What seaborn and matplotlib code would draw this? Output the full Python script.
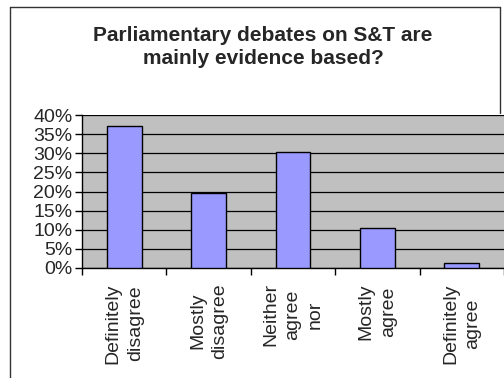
import numpy as np
import pandas as pd
import matplotlib
matplotlib.use("Agg")
import matplotlib.pyplot as plt
from matplotlib.lines import Line2D
from matplotlib.ticker import PercentFormatter, MultipleLocator, FixedLocator
import seaborn as sns

categories = ["Definitely\ndisagree", "Mostly\ndisagree", "Neither\nagree\nnor",
              "Mostly\nagree", "Definitely\nagree"]
shares = [0.371, 0.195, 0.304, 0.105, 0.014]

df = pd.DataFrame({"answer": categories, "share": shares})

sns.set_style("white")
plt.rcParams['font.family'] = ['Liberation Sans', 'DejaVu Sans']

fig = plt.figure(figsize=(5.04, 3.78), dpi=100)
ax = fig.add_axes([82 / 504, 1 - 268 / 378, 422 / 504, 153 / 378])
ax.set_facecolor('#C0C0C0')

sns.barplot(data=df, x="answer", y="share", color='#9999FF', saturation=1,
            width=0.41, edgecolor='black', linewidth=1, ax=ax, zorder=3)

ax.set_xlim(-0.5, len(categories) - 0.5)
ax.set_ylim(0, 0.40)
ax.yaxis.set_major_locator(MultipleLocator(0.05))
ax.yaxis.set_major_formatter(PercentFormatter(1.0, decimals=0))
ax.grid(axis='y', color='black', linewidth=0.9, zorder=1)
ax.set_axisbelow(True)

ax.set_xlabel('')
ax.set_ylabel('')

for s in ['top', 'right']:
    ax.spines[s].set_visible(False)
for s in ['left', 'bottom']:
    ax.spines[s].set_color('black')
    ax.spines[s].set_linewidth(1)

ax.tick_params(axis='y', which='major', direction='out', length=5, width=1,
               color='black', labelsize=14, pad=2, left=True)
ax.tick_params(axis='x', which='major', length=0, labelsize=14, pad=11)
ax.xaxis.set_minor_locator(FixedLocator(np.arange(-0.5, len(categories), 1.0)))
ax.tick_params(axis='x', which='minor', direction='out', length=5, width=1,
               color='black', bottom=True)
for lbl in ax.get_xticklabels():
    lbl.set_rotation(90)
    lbl.set_va('top')
    lbl.set_ha('center')
    lbl.set_multialignment('center')
    lbl.set_linespacing(1.4)

fig.text(263 / 504, 1 - 47 / 378, "Parliamentary debates on S&T are\nmainly evidence based?",
         ha='center', va='center', fontsize=15, fontweight='bold', linespacing=1.25)

# chart frame (left, top, and right part above the plot area)
top_y = 1 - 7 / 378
frame = dict(transform=fig.transFigure, color='#333333', linewidth=1)
fig.lines.append(Line2D([10 / 504, 10 / 504], [0, top_y], **frame))
fig.lines.append(Line2D([10 / 504, 500 / 504], [top_y, top_y], **frame))
fig.lines.append(Line2D([500 / 504, 500 / 504], [top_y, 1 - 113 / 378], **frame))

fig.savefig('out.png', dpi=100)
